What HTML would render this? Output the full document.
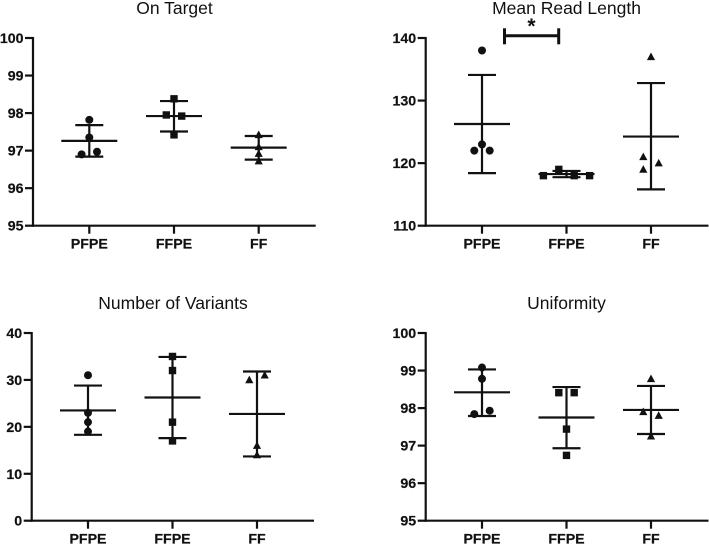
<!DOCTYPE html>
<html lang="en">
<head>
<meta charset="utf-8">
<title>Sequencing metrics by sample type</title>
<style>
  html, body { margin: 0; padding: 0; background: #fff; }
  svg { display: block; }
  text { font-family: "Liberation Sans", Arial, sans-serif; fill: #111; }
  .title { font-size: 17.5px; text-anchor: middle; }
  .tick { font-size: 14.2px; font-weight: bold; stroke: #111; stroke-width: 0.2px; }
</style>
</head>
<body>
<svg id="figure" xmlns="http://www.w3.org/2000/svg" width="709" height="545" viewBox="0 0 709 545">
  <rect x="0" y="0" width="709" height="545" fill="#fff"/>
  <text class="title" x="174.500" y="14">On Target</text>
  <text class="title" x="566.500" y="14">Mean Read Length</text>
  <text class="title" x="173" y="309">Number of Variants</text>
  <text class="title" x="566.500" y="309">Uniformity</text>
  <g id="panels"></g>
  <g stroke="#111" fill="none">
    <line x1="504.500" y1="35.700" x2="558.700" y2="35.700" stroke-width="3"/>
    <line x1="504.500" y1="28.300" x2="504.500" y2="44.300" stroke-width="3"/>
    <line x1="558.700" y1="28.300" x2="558.700" y2="44.300" stroke-width="3"/>
  </g>
  <text x="531.500" y="33" text-anchor="middle" font-size="21" font-weight="bold">*</text>
</svg>
<script>
const categories = ['PFPE', 'FFPE', 'FF'];

const onTargetTicks = [95, 96, 97, 98, 99, 100];
const onTargetValues = [[97.82, 97.35, 96.9, 96.97], [98.38, 97.95, 97.92, 97.42], [97.42, 97.1, 96.92, 96.72]];
const onTargetSlots = [[0, 0, -1, 1], [0, -1, 1, 0], [0, 0, 0, 0]];
const onTargetMeans = [97.26, 97.92, 97.08];
const onTargetUpper = [97.68, 98.32, 97.39];
const onTargetLower = [96.84, 97.51, 96.76];

const readLengthTicks = [110, 120, 130, 140];
const readLengthValues = [[138, 123, 122, 122], [119, 118, 118, 118], [137, 121, 120, 119]];
const readLengthSlots = [[0, 0, -1, 1], [-1, -3, 1, 3], [0, -1, 1, -1]];
const readLengthMeans = [126.25, 118.25, 124.25];
const readLengthUpper = [134.1, 118.75, 132.8];
const readLengthLower = [118.4, 117.75, 115.8];

const variantTicks = [0, 10, 20, 30, 40];
const variantValues = [[31, 23, 21, 19], [35, 32, 21, 17], [31, 30, 16, 14]];
const variantSlots = [[0, 0, 0, 0], [0, 0, 0, 0], [1, -1, 0, 0]];
const variantMeans = [23.5, 26.25, 22.75];
const variantUpper = [28.8, 34.9, 31.8];
const variantLower = [18.3, 17.6, 13.7];

const uniformityTicks = [95, 96, 97, 98, 99, 100];
const uniformityValues = [[99.08, 98.78, 97.84, 97.93], [98.41, 98.41, 97.44, 96.74], [98.78, 97.9, 97.8, 97.25]];
const uniformitySlots = [[0, 0, -1, 1], [-1, 1, 0, 0], [0, -1, 1, 0]];
const uniformityMeans = [98.42, 97.75, 97.95];
const uniformityUpper = [99.03, 98.56, 98.59];
const uniformityLower = [97.79, 96.93, 97.31];

const NS = 'http://www.w3.org/2000/svg';
const INK = '#111';
const LINE = 2.2;
const root = document.getElementById('panels');

function make(parent, tag, attrs) {
  const el = document.createElementNS(NS, tag);
  for (const k in attrs) el.setAttribute(k, attrs[k]);
  parent.appendChild(el);
  return el;
}

function segment(parent, name, x1, y1, x2, y2, width) {
  const el = make(parent, 'line', { x1: x1, y1: y1, x2: x2, y2: y2, stroke: INK, 'stroke-width': width });
  
  
  return el;
}

function drawMarker(parent, shape, cx, cy, name) {
  let el;
  if (shape === 'circle') {
    el = make(parent, 'circle', { cx: cx, cy: cy, r: 4, fill: INK });
  } else if (shape === 'square') {
    el = make(parent, 'rect', { x: cx - 3.7, y: cy - 3.7, width: 7.4, height: 7.4, fill: INK });
  } else {
    const pts = [[cx, cy - 4.3], [cx + 4.1, cy + 3.3], [cx - 4.1, cy + 3.3]];
    el = make(parent, 'polygon', { points: pts.map(p => p.join(',')).join(' '), fill: INK });
  }
  
  
}

function drawPanel(p) {
  const g = make(root, 'g', {});
  
  

  const min = p.ticks[0];
  const max = p.ticks[p.ticks.length - 1];
  const yScale = v => p.bottom - (v - min) / (max - min) * (p.bottom - p.top);
  const xScale = i => p.firstX + i * p.stepX;

  segment(g, p.name + '-y-axis', p.axisX, p.top - 1, p.axisX, p.bottom + 1, LINE);
  segment(g, p.name + '-x-axis', p.axisX - 1, p.bottom, p.axisEnd, p.bottom, LINE);

  p.ticks.forEach(function (t) {
    const y = yScale(t);
    segment(g, p.name + '-y-tick-' + t, p.axisX - 8, y, p.axisX, y, LINE);
    const label = make(g, 'text', { class: 'tick', x: p.axisX - 9.5, y: y + 5, 'text-anchor': 'end' });
    
    
    label.textContent = String(t);
  });

  categories.forEach(function (cat, i) {
    const x = xScale(i);
    const key = p.name + '-' + cat.toLowerCase();
    segment(g, key + '-x-tick', x, p.bottom, x, p.bottom + 8, LINE);
    const label = make(g, 'text', { class: 'tick', x: x, y: p.bottom + 23, 'text-anchor': 'middle' });
    
    
    label.textContent = cat;

    p.values[i].forEach(function (v, j) {
      drawMarker(g, p.shapes[i], x + p.slots[i][j] * 7.7, yScale(v), key + '-point-' + (j + 1));
    });

    segment(g, key + '-error-bar', x, yScale(p.upper[i]), x, yScale(p.lower[i]), LINE);
    segment(g, key + '-upper-cap', x - 14, yScale(p.upper[i]), x + 14, yScale(p.upper[i]), LINE);
    segment(g, key + '-lower-cap', x - 14, yScale(p.lower[i]), x + 14, yScale(p.lower[i]), LINE);
    segment(g, key + '-mean-line', x - 28, yScale(p.means[i]), x + 28, yScale(p.means[i]), LINE);
  });
}

const markerShapes = ['circle', 'square', 'triangle'];

drawPanel({ name: 'on-target', ticks: onTargetTicks, values: onTargetValues, slots: onTargetSlots,
  means: onTargetMeans, upper: onTargetUpper, lower: onTargetLower, shapes: markerShapes,
  axisX: 33, axisEnd: 315.7, top: 38, bottom: 225.7, firstX: 89.3, stepX: 84.7 });

drawPanel({ name: 'mean-read-length', ticks: readLengthTicks, values: readLengthValues, slots: readLengthSlots,
  means: readLengthMeans, upper: readLengthUpper, lower: readLengthLower, shapes: markerShapes,
  axisX: 425.7, axisEnd: 708.5, top: 38, bottom: 225.7, firstX: 482, stepX: 84.5 });

drawPanel({ name: 'number-of-variants', ticks: variantTicks, values: variantValues, slots: variantSlots,
  means: variantMeans, upper: variantUpper, lower: variantLower, shapes: markerShapes,
  axisX: 31.7, axisEnd: 314, top: 333, bottom: 520.7, firstX: 88, stepX: 84.5 });

drawPanel({ name: 'uniformity', ticks: uniformityTicks, values: uniformityValues, slots: uniformitySlots,
  means: uniformityMeans, upper: uniformityUpper, lower: uniformityLower, shapes: markerShapes,
  axisX: 425.7, axisEnd: 708.5, top: 333, bottom: 520.7, firstX: 482, stepX: 84.5 });
</script>
</body>
</html>
